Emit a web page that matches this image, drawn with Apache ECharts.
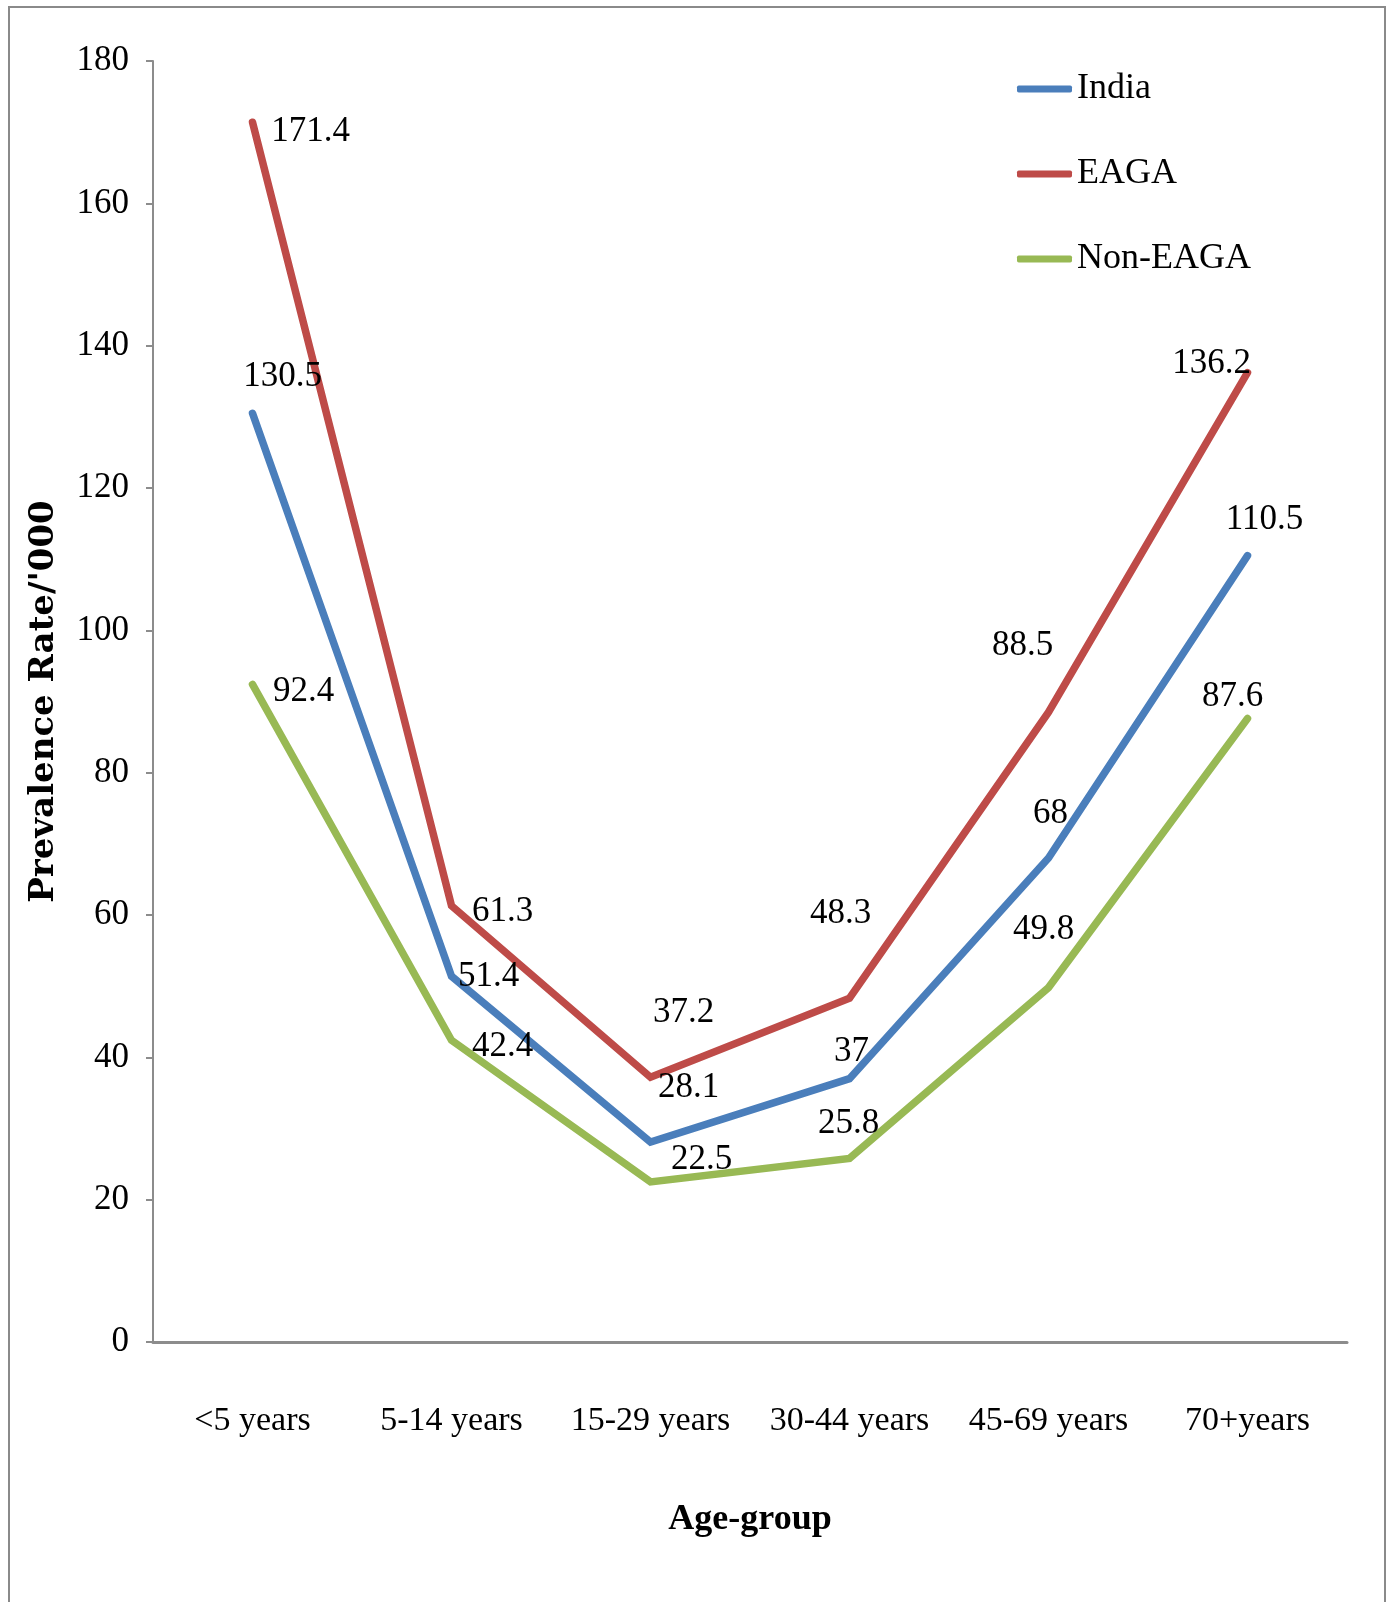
<!DOCTYPE html>
<html>
<head>
<meta charset="utf-8">
<script src="https://cdn.jsdelivr.net/npm/echarts@6/dist/echarts.min.js"></script>
<style>
html,body{margin:0;padding:0;background:#fff;}
#chart{width:1388px;height:1602px;}
</style>
</head>
<body>
<div id="chart"></div>
<script>
const categories = ['<5 years', '5-14 years', '15-29 years', '30-44 years', '45-69 years', '70+years'];
const seriesNames = ['India', 'EAGA', 'Non-EAGA'];
const indiaValues = [130.5, 51.4, 28.1, 37, 68, 110.5];
const eagaValues = [171.4, 61.3, 37.2, 48.3, 88.5, 136.2];
const nonEagaValues = [92.4, 42.4, 22.5, 25.8, 49.8, 87.6];
const yTicks = { min: 0, max: 180, interval: 20 };

// label placement (pixel offsets from each point), kept apart from data
const indiaOffsets = [[30,-36],[37,1],[38,-54],[2,-27],[2,-44],[17,-36]];
const eagaOffsets = [[58,10],[51,6],[33,-64],[-9,-84],[-26,-66],[-36,-9]];
const nonEagaOffsets = [[51,7],[51,7],[51,-22],[-1,-35],[-5,-58],[-15,-22]];

const colors = ['#4a7ebb', '#be4b48', '#98b954'];
const FONT = 'Liberation Serif';

function buildSeries(name, values, offsets, color) {
  return {
    name: name,
    type: 'line',
    data: values.map((v, i) => ({
      value: v,
      label: { offset: offsets[i] }
    })),
    symbol: 'circle',
    symbolSize: 1,
    showSymbol: true,
    itemStyle: { color: color },
    lineStyle: { color: color, width: 7.5, join: 'miter', cap: 'round' },
    label: {
      show: true,
      position: 'inside',
      color: '#000',
      fontFamily: FONT,
      fontSize: 35,
      formatter: p => String(p.value)
    },
    emphasis: { disabled: true },
    silent: true,
    animation: false
  };
}

const chart = echarts.init(document.getElementById('chart'));
chart.setOption({
  backgroundColor: '#fff',
  animation: false,
  graphic: [{
    type: 'rect',
    shape: { x: 9, y: 7, width: 1376, height: 1620 },
    style: { fill: 'none', stroke: '#8a8a8a', lineWidth: 2 },
    silent: true
  }],
  legend: {
    orient: 'vertical',
    left: 1012,
    top: 66,
    itemWidth: 55,
    itemHeight: 7,
    itemGap: 49,
    icon: 'roundRect',
    data: seriesNames,
    textStyle: { fontFamily: FONT, fontSize: 36, color: '#000' },
    selectedMode: false
  },
  grid: { left: 153, right: 41, top: 61, bottom: 260, containLabel: false },
  xAxis: {
    type: 'category',
    data: categories,
    boundaryGap: true,
    axisLine: { show: true, lineStyle: { color: '#8c8c8c', width: 3 } },
    axisTick: { show: false },
    axisLabel: { color: '#000', fontFamily: FONT, fontSize: 34, margin: 62, interval: 0 },
    name: 'Age-group',
    nameLocation: 'middle',
    nameGap: 160,
    nameTextStyle: { color: '#000', fontFamily: FONT, fontSize: 36, fontWeight: 'bold' }
  },
  yAxis: {
    type: 'value',
    min: yTicks.min,
    max: yTicks.max,
    interval: yTicks.interval,
    splitLine: { show: false },
    axisLine: { show: true, lineStyle: { color: '#8c8c8c', width: 2 } },
    axisTick: { show: true, length: 7, lineStyle: { color: '#8c8c8c', width: 2 } },
    axisLabel: { color: '#000', fontFamily: FONT, fontSize: 35, margin: 24 },
    name: "Prevalence Rate/'000",
    nameLocation: 'middle',
    nameGap: 92,
    nameRotate: 90,
    nameTextStyle: { color: '#000', fontFamily: "'DejaVu Serif', serif", fontSize: 34, fontWeight: 'bold' }
  },
  series: [
    buildSeries(seriesNames[0], indiaValues, indiaOffsets, colors[0]),
    buildSeries(seriesNames[1], eagaValues, eagaOffsets, colors[1]),
    buildSeries(seriesNames[2], nonEagaValues, nonEagaOffsets, colors[2])
  ]
});
</script>
</body>
</html>
